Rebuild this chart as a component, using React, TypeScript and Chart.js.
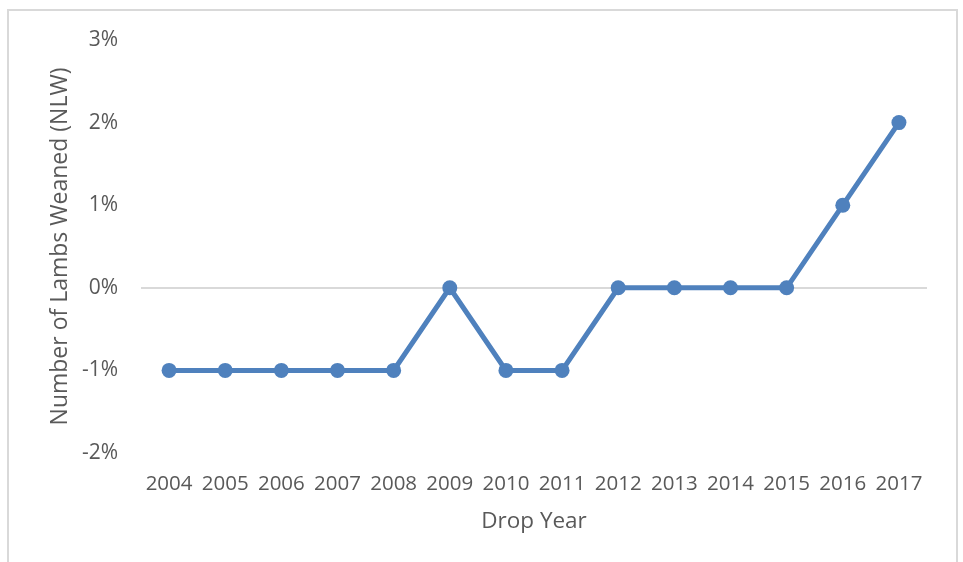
import React, { useEffect, useRef } from "react";
import { Chart, registerables } from "chart.js";

Chart.register(...registerables);

const years = ["2004", "2005", "2006", "2007", "2008", "2009", "2010", "2011", "2012", "2013", "2014", "2015", "2016", "2017"];
const nlwChange = [-1, -1, -1, -1, -1, 0, -1, -1, 0, 0, 0, 0, 1, 2];
const yMin = -2;
const yMax = 3;

const textColor = "#595959";
const lineColor = "#4f81bd";
const fontFamily = "'Open Sans', sans-serif";

export default function App() {
  const canvasRef = useRef<HTMLCanvasElement | null>(null);

  useEffect(() => {
    const canvas = canvasRef.current;
    if (!canvas) return;
    const chart = new Chart(canvas, {
      type: "line",
      data: {
        labels: years,
        datasets: [
          {
            data: nlwChange,
            borderColor: lineColor,
            backgroundColor: lineColor,
            borderWidth: 5,
            pointRadius: 7.5,
            pointHoverRadius: 7.5,
            pointBackgroundColor: lineColor,
            pointBorderColor: lineColor,
            pointBorderWidth: 0,
            tension: 0,
          },
        ],
      },
      options: {
        responsive: false,
        animation: false,
        layout: { padding: { left: 38, top: 40, right: 36, bottom: 16 } },
        plugins: { legend: { display: false }, tooltip: { enabled: false } },
        scales: {
          x: {
            offset: true,
            grid: { display: false, drawTicks: false },
            border: { display: false },
            ticks: { color: textColor, font: { family: fontFamily, size: 20.5 }, padding: 19, maxRotation: 0, autoSkip: false },
            title: { display: true, text: "Drop Year", color: textColor, font: { family: fontFamily, size: 22.5 }, padding: { top: 0, bottom: 11 } },
            afterFit: (scale) => {
              scale.height = 562 - 16 - 453;
            },
          },
          y: {
            min: yMin,
            max: yMax,
            ticks: {
              stepSize: 1,
              color: textColor,
              font: { family: fontFamily, size: 21 },
              padding: 23,
              callback: (v) => `${v}%`,
            },
            grid: {
              drawTicks: false,
              color: (ctx) => (ctx.tick && ctx.tick.value === 0 ? "#d9d9d9" : "rgba(0,0,0,0)"),
              lineWidth: 2,
            },
            border: { display: false },
            title: { display: true, text: "Number of Lambs Weaned (NLW)", color: textColor, font: { family: fontFamily, size: 23 }, padding: { top: 9, bottom: 0 } },
            afterFit: (scale) => {
              scale.width = 141 - 38;
            },
          },
        },
      },
    });
    return () => chart.destroy();
  }, []);

  return (
    <div style={{ position: "fixed", left: 0, top: 0, width: 963, height: 562, background: "#ffffff", overflow: "hidden" }}>
      <div
        style={{
          position: "absolute",
          left: 7,
          top: 9,
          width: 947,
          height: 600,
          border: "2px solid #d9d9d9",
        }}
      />
      <canvas ref={canvasRef} width={963} height={562} style={{ position: "absolute", left: 0, top: 0 }} />
    </div>
  );
}
